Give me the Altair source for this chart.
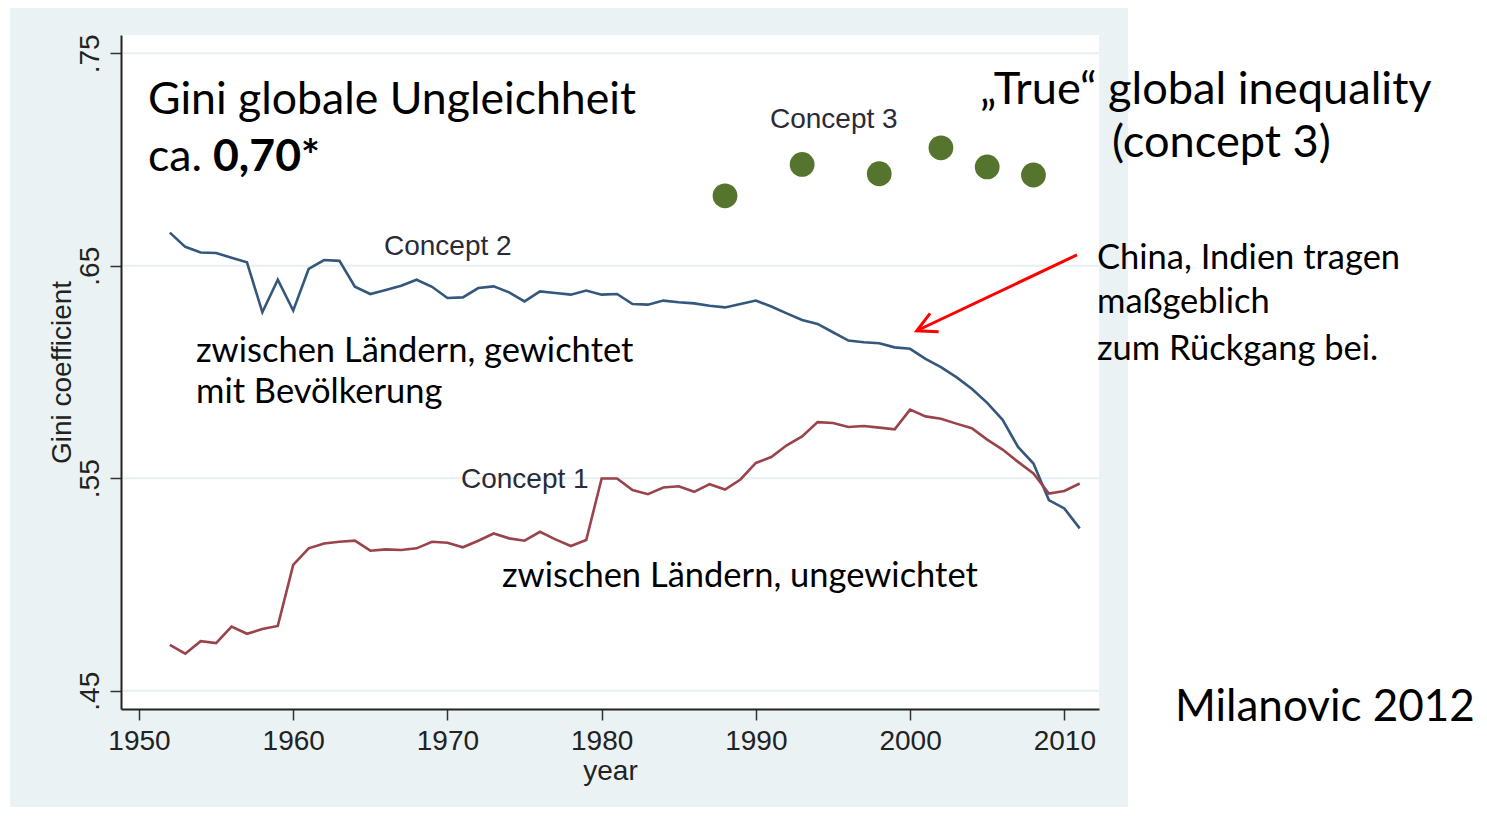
import altair as alt
import pandas as pd

# ---------------- data ----------------
years = list(range(1952, 2012))
concept1 = [0.4716, 0.4674, 0.4733, 0.4724, 0.4802, 0.4768, 0.4790, 0.4805,
            0.5092, 0.5170, 0.5193, 0.5201, 0.5206, 0.5159, 0.5165, 0.5162,
            0.5170, 0.5201, 0.5196, 0.5175, 0.5206, 0.5240, 0.5217, 0.5206,
            0.5248, 0.5212, 0.5181, 0.5209, 0.5499, 0.5499, 0.5444, 0.5425,
            0.5456, 0.5462, 0.5436, 0.5472, 0.5447, 0.5494, 0.5572, 0.5600,
            0.5655, 0.5697, 0.5764, 0.5760, 0.5741, 0.5746, 0.5738, 0.5730,
            0.5823, 0.5791, 0.5780, 0.5757, 0.5735, 0.5682, 0.5635, 0.5577,
            0.5522, 0.5428, 0.5440, 0.5475]
concept2 = [0.6656, 0.6589, 0.6562, 0.6560, 0.6538, 0.6516, 0.6281, 0.6434,
            0.6289, 0.6485, 0.6527, 0.6523, 0.6401, 0.6367, 0.6386, 0.6406,
            0.6434, 0.6401, 0.6348, 0.6351, 0.6395, 0.6403, 0.6375, 0.6332,
            0.6379, 0.6372, 0.6364, 0.6383, 0.6364, 0.6367, 0.6320, 0.6317,
            0.6336, 0.6328, 0.6323, 0.6312, 0.6304, 0.6320, 0.6336, 0.6308,
            0.6276, 0.6245, 0.6226, 0.6187, 0.6148, 0.6140, 0.6135, 0.6116,
            0.6109, 0.6062, 0.6023, 0.5976, 0.5921, 0.5855, 0.5775, 0.5647,
            0.5569, 0.5397, 0.5358, 0.5264]
c3_years = [1988, 1993, 1998, 2002, 2005, 2008]
concept3 = [0.6829, 0.6977, 0.6933, 0.7055, 0.6965, 0.6927]
y_ticks = [0.45, 0.55, 0.65, 0.75]
x_ticks = [1950, 1960, 1970, 1980, 1990, 2000, 2010]
arrow_from = (2010.82, 0.6551)
arrow_to = (2000.43, 0.6194)

# ---------------- layout ----------------
W, H = 978, 674
OX, OY = 121, 35          # page position of the plot origin
PAGE_W = 1471
PAGE_H = 799

df1 = pd.DataFrame({"year": years, "gini": concept1})
df2 = pd.DataFrame({"year": years, "gini": concept2})
df3 = pd.DataFrame({"year": c3_years, "gini": concept3})
one = pd.DataFrame({"a": [0]})

xs = alt.Scale(domain=[1948.833, 2012.25], nice=False, zero=False)
ys = alt.Scale(domain=[0.44139, 0.7586], nice=False, zero=False)

STATA_FONT = "Liberation Sans"
AX = alt.Axis(values=x_ticks, format="d", grid=False, zindex=1,
              labelFont=STATA_FONT, labelFontSize=28, labelColor="#222222",
              labelPadding=7, labelFlush=False, labelOverlap=False,
              tickSize=11, tickWidth=1.5, tickColor="#333333",
              domainColor="#222222", domainWidth=2,
              title="year", titleFont=STATA_FONT, titleFontSize=28,
              titleFontWeight="normal", titleColor="#222222",
              titleX=W / 2, titleY=70, titleAlign="center",
              titleBaseline="alphabetic")
AY = alt.Axis(values=y_ticks, grid=False, zindex=1,
              labelExpr="replace(format(datum.value, '.2f'), '0.', '.')",
              labelFont=STATA_FONT, labelFontSize=28, labelColor="#222222",
              labelAngle=270, labelAlign="center", labelBaseline="bottom",
              labelPadding=6, labelFlush=False, labelOverlap=False,
              tickSize=11, tickWidth=1.5, tickColor="#333333",
              domainColor="#222222", domainWidth=2,
              title="Gini coefficient", titleFont=STATA_FONT, titleFontSize=28,
              titleFontWeight="normal", titleColor="#222222",
              titleAngle=270, titleX=-51, titleY=H / 2, titleAlign="center",
              titleBaseline="alphabetic")

panel = alt.Chart(one).mark_rect(color="#EAF2F3").encode(
    x=alt.value(10 - OX), x2=alt.value(1128 - OX),
    y=alt.value(-OY), y2=alt.value(PAGE_H + 20 - OY))
plot_bg = alt.Chart(one).mark_rect(color="white").encode(
    x=alt.value(0), x2=alt.value(W), y=alt.value(0), y2=alt.value(H))

grid = alt.Chart(pd.DataFrame({"gini": y_ticks})).mark_rule(
    color="#E6EFF1", strokeWidth=2).encode(
    y=alt.Y("gini:Q", scale=ys, axis=AY), x=alt.value(0), x2=alt.value(W))

line2 = alt.Chart(df2).mark_line(color="#34577C", strokeWidth=2.6).encode(
    x=alt.X("year:Q", scale=xs, axis=AX), y=alt.Y("gini:Q", scale=ys, axis=AY))
line1 = alt.Chart(df1).mark_line(color="#9A434B", strokeWidth=2.6).encode(
    x=alt.X("year:Q", scale=xs, axis=AX), y=alt.Y("gini:Q", scale=ys, axis=AY))
dots = alt.Chart(df3).mark_circle(color="#55752F", size=615, opacity=1).encode(
    x=alt.X("year:Q", scale=xs, axis=AX), y=alt.Y("gini:Q", scale=ys, axis=AY))

arrow_df = pd.DataFrame({"x": [arrow_from[0]], "y": [arrow_from[1]],
                         "x2": [arrow_to[0]], "y2": [arrow_to[1]]})
shaft = alt.Chart(arrow_df).mark_rule(color="#FF0000", strokeWidth=3).encode(
    x=alt.X("x:Q", scale=xs, axis=AX), y=alt.Y("y:Q", scale=ys, axis=AY),
    x2="x2:Q", y2="y2:Q")
head = alt.Chart(arrow_df).mark_point(
    shape="M -1 -0.52 L 0 0 L -1 0.52", size=1521, angle=155, filled=False,
    stroke="#FF0000", strokeWidth=3, opacity=1).encode(
    x=alt.X("x2:Q", scale=xs, axis=AX), y=alt.Y("y2:Q", scale=ys, axis=AY))


def label(text, px, py, size, font="Lato", weight="normal", color="#000000"):
    return alt.Chart(one).mark_text(
        text=text, font=font, fontSize=size, fontWeight=weight, color=color,
        align="left", baseline="alphabetic").encode(
        x=alt.value(px - OX), y=alt.value(py - OY))


BIG, MID = 44.6, 34.5
texts = [
    label("Gini globale Ungleichheit", 148, 114, BIG),
    label("ca.", 148, 171, BIG),
    label("0,70*", 213, 171, BIG, weight="bold"),
    label("\u201eTrue\u201c global inequality", 980, 104, 45.2),
    label("(concept 3)", 1112, 157, 45.2),
    label("China, Indien tragen", 1097, 269, MID),
    label("ma\u00dfgeblich", 1097, 313, MID),
    label("zum R\u00fcckgang bei.", 1097, 360, MID),
    label("zwischen L\u00e4ndern, gewichtet", 196, 362, MID),
    label("mit Bev\u00f6lkerung", 196, 403, MID),
    label("zwischen L\u00e4ndern, ungewichtet", 502, 587, MID),
    label("Milanovic 2012", 1175, 721, 44),
    label("Concept 1", 461, 488, 28, font=STATA_FONT, color="#2a2a38"),
    label("Concept 2", 384, 255, 28, font=STATA_FONT, color="#2a2a38"),
    label("Concept 3", 770, 128, 28, font=STATA_FONT, color="#2a2a38"),
]

chart = alt.layer(panel, plot_bg, grid, line2, line1, dots, shaft, head, *texts).properties(
    width=W, height=H,
    autosize=alt.AutoSizeParams(type="none"),
    padding={"left": OX - 8, "top": OY - 8, "right": PAGE_W - (OX - 8) - W,
             "bottom": PAGE_H - (OY - 8) - H},
    background="white",
).configure_view(stroke=None)

chart.save("out.html", embed_options={"renderer": "svg", "actions": False})
